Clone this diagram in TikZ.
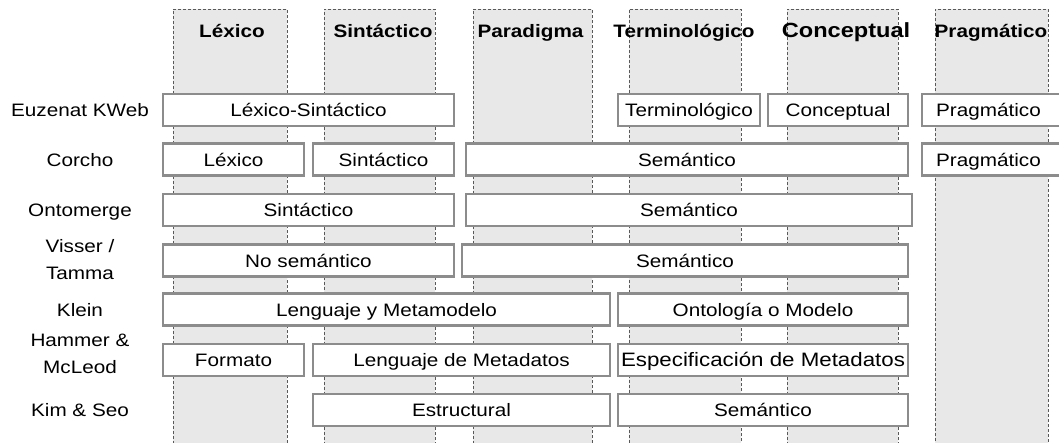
\documentclass[tikz,border=0pt]{standalone}
\usepackage{fontspec}
\setmainfont{Liberation Sans}[FakeStretch=1.15]
\newcommand\mybox[5]{\node[bx, minimum width={#3pt-#2pt-2.4pt}] (#1) at ({(#2+#3)/2},#4) {#5};}
\begin{document}
\begin{tikzpicture}[x=1pt,y=-1pt,
  col/.style={draw=black!65, dash pattern=on 3pt off 2pt, fill=black!9, line width=0.8pt, inner sep=0pt, minimum height=440pt, anchor=north},
  hdr/.style={font=\bfseries\fontsize{18}{20}\selectfont, text height=13pt, text depth=0pt, inner sep=0pt},
  bx/.style={draw=black!45, line width=2.4pt, fill=white, minimum height=32pt, inner sep=0pt, text height=13pt, text depth=0pt, font=\fontsize{18}{20}\selectfont},
  lbl/.style={font=\fontsize{18}{27}\selectfont, align=center, inner sep=0pt},
  lbl1/.style={lbl, text height=13pt, text depth=0pt}]
\useasboundingbox (0,0) rectangle (1059,442);
\clip (0,0) rectangle (1059,442);
% columns
\node[col, minimum width=114pt] (colLex) at (230,9) {};
\node[col, minimum width=111pt] (colSin) at (379.5,9) {};
\node[col, minimum width=119pt] (colPar) at (532.5,9) {};
\node[col, minimum width=112pt] (colTer) at (685,9) {};
\node[col, minimum width=111pt] (colCon) at (842.5,9) {};
\node[col, minimum width=113pt] (colPra) at (991.5,9) {};
% headers
\node[hdr] (hLex) at (232,30.5) {Léxico};
\node[hdr] (hSin) at (383,30.5) {Sintáctico};
\node[hdr] (hPar) at (530.5,30.5) {Paradigma};
\node[hdr] (hTer) at (684,30.5) {Terminológico};
\node[hdr, font=\bfseries\fontsize{20.5}{22}\selectfont] (hCon) at (846,30.5) {Conceptual};
\node[hdr] (hPra) at (991,30.5) {Pragmático};
% row labels
\node[lbl1] (lEuz) at (80,110) {Euzenat KWeb};
\node[lbl1] (lCor) at (80,159.5) {Corcho};
\node[lbl1] (lOnt) at (80,210) {Ontomerge};
\node[lbl] (lVis) at (80,260) {Visser /\\Tamma};
\node[lbl1] (lKle) at (80,309.5) {Klein};
\node[lbl] (lHam) at (80,354) {Hammer \&\\McLeod};
\node[lbl1] (lKim) at (80,410) {Kim \& Seo};
% row 1
\mybox{eLS}{162}{455}{110}{Léxico-Sintáctico}
\mybox{eTer}{617}{761}{110}{Terminológico}
\mybox{eCon}{767}{909}{110}{Conceptual}
\mybox{ePra}{921}{1068}{110}{\hspace*{-12pt}Pragmático}
% row 2
\mybox{cLex}{162}{305}{159.5}{Léxico}
\mybox{cSin}{312}{455}{159.5}{Sintáctico}
\mybox{cSem}{465}{909}{159.5}{Semántico}
\mybox{cPra}{921}{1068}{159.5}{\hspace*{-12pt}Pragmático}
% row 3
\mybox{oSin}{162}{455}{210}{Sintáctico}
\mybox{oSem}{465}{913}{210}{Semántico}
% row 4
\mybox{vNoS}{162}{455}{260.5}{No semántico}
\mybox{vSem}{461}{909}{260.5}{Semántico}
% row 5
\mybox{kLen}{162}{611}{309.5}{Lenguaje y Metamodelo}
\mybox{kOnt}{617}{909}{309.5}{Ontología o Modelo}
% row 6
\mybox{hFor}{162}{305}{360}{Formato}
\mybox{hLen}{312}{611}{360}{Lenguaje de Metadatos}
\node[bx, minimum width=289.6pt, font=\fontsize{19.4}{21}\selectfont] (hEsp) at (763,360) {Especificación de Metadatos};
% row 7
\mybox{sEst}{312}{611}{410}{Estructural}
\mybox{sSem}{617}{909}{410}{Semántico}
\end{tikzpicture}
\end{document}
